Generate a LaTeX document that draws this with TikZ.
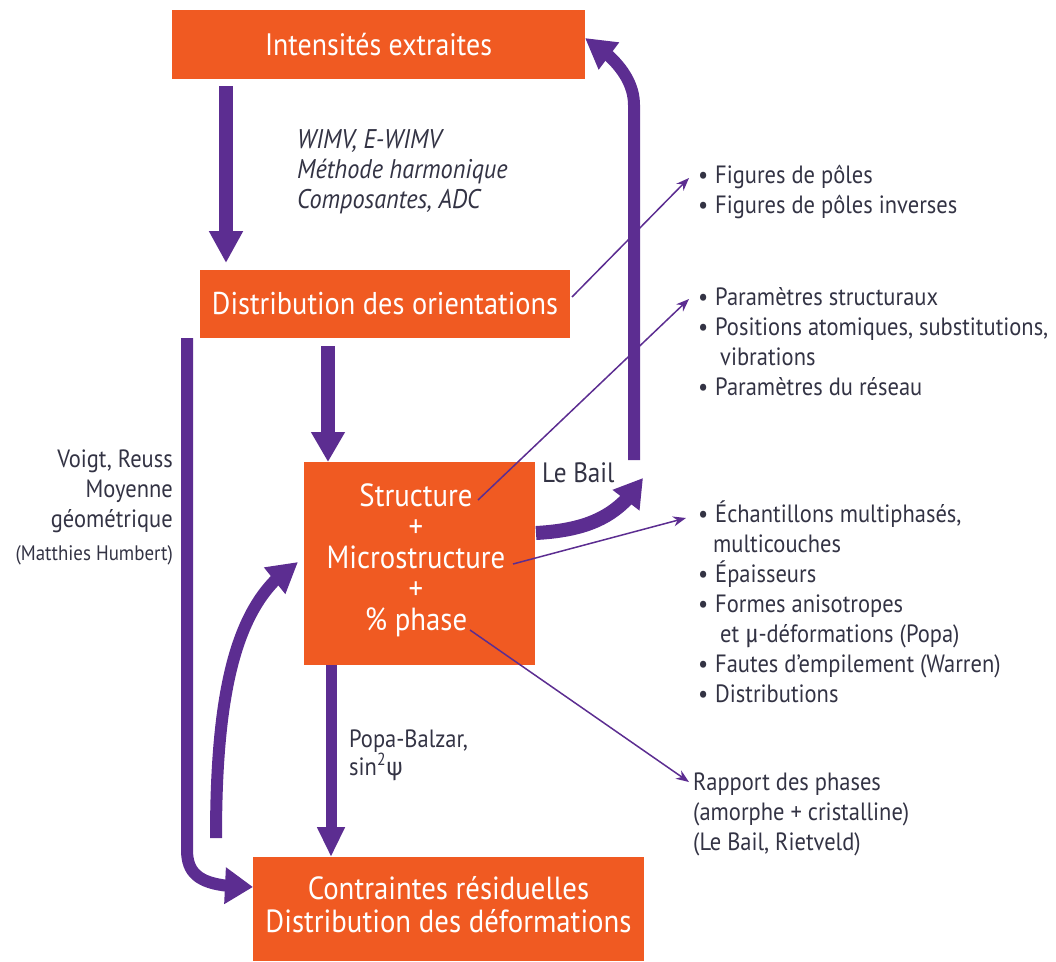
\documentclass[tikz,border=0pt]{standalone}
\usepackage{fontspec}
\setmainfont{PT Sans}[FakeStretch=0.9]
\newfontfamily\grk{Fira Sans}[FakeStretch=0.9]
\usetikzlibrary{arrows.meta,bending}
\definecolor{orng}{HTML}{F05A22}
\definecolor{purp}{HTML}{5C2D91}
\definecolor{txt}{HTML}{333344}
\tikzset{
  box/.style={fill=orng, draw=none, text=white, inner sep=0pt, align=center},
  lbl/.style={text=txt, inner sep=0pt, align=left, font={\fontsize{25}{30}\selectfont}},
  thin/.style={draw=purp, line width=1.5pt, -{Stealth[length=13pt,width=10pt]}},
  fat/.style={draw=purp, line width=#1},
}
\newcommand{\bul}{\makebox[17pt][l]{\textbullet}}
\begin{document}
\begin{tikzpicture}[x=1pt,y=-1pt]
\useasboundingbox (0,0) rectangle (1056,961);
% boxes
\node[box,font={\fontsize{31}{31}\selectfont},minimum width=413pt,minimum height=69pt] (int) at (378.5,44.5) {Intensités extraites};
\node[box,font={\fontsize{31.5}{31}\selectfont},minimum width=370pt,minimum height=68pt] (dist) at (385,304) {Distribution des orientations};
\node[box,minimum width=231pt,minimum height=203pt] (struct) at (419.5,563.5) {};
\node[box,font={\fontsize{32}{31}\selectfont}] (structtxt) at (416,560) {Structure\\+\\Microstructure\\+\\\% phase};
\node[box,minimum width=391pt,minimum height=104pt] (contr) at (448.5,909) {};
\node[box,font={\fontsize{32}{33}\selectfont}] (contrtxt) at (448.5,905) {Contraintes résiduelles\\Distribution des déformations};

% labels
\node[lbl,anchor=base west,font={\itshape\fontsize{27}{30}\selectfont}] (wimv) at (297,208) {WIMV, E-WIMV\\Méthode harmonique\\Composantes, ADC};
\node[lbl,anchor=base east,align=right] (voigt) at (173,527) {Voigt, Reuss\\Moyenne\\géométrique};
\node[lbl,anchor=base east,font={\fontsize{21}{22}\selectfont}] (matt) at (173,560) {(Matthies Humbert)};
\node[lbl,anchor=base west,font={\fontsize{28}{30}\selectfont}] (lebail) at (542,482) {Le Bail};
\node[lbl,anchor=base west,font={\fontsize{25}{28}\selectfont}] (popa) at (349,775) {Popa-Balzar,\\sin\textsuperscript{2}{\grk ψ}};

\node[lbl,anchor=base west] (list1) at (698,213) {\bul Figures de pôles\\\bul Figures de pôles inverses};
\node[lbl,anchor=base west] (list2) at (698,395) {\bul Paramètres structuraux\\\bul Positions atomiques, substitutions,\\\hspace{22pt}vibrations\\\bul Paramètres du réseau};
\node[lbl,anchor=base west] (list3) at (698,702) {\bul Échantillons multiphasés,\\\hspace{15pt}multicouches\\\bul Épaisseurs\\\bul Formes anisotropes\\\hspace{22pt}et {\grk μ}-déformations (Popa)\\\bul Fautes d’empilement (Warren)\\\bul Distributions};
\node[lbl,anchor=base west] (list4) at (693,850) {Rapport des phases\\(amorphe + cristalline)\\(Le Bail, Rietveld)};

% coordinates for arrows
\coordinate (a1s) at (226,86);  \coordinate (a1e) at (226,263);
\coordinate (a2s) at (328,346); \coordinate (a2e) at (328,462);
\coordinate (a3s) at (331,665); \coordinate (a3e) at (331,857);
\coordinate (lfs) at (187,338); \coordinate (lfm) at (187,850); \coordinate (lfe) at (253,887);
\coordinate (ups) at (216,838); \coordinate (upe) at (298,562);
\coordinate (lbs) at (536,533); \coordinate (lbe) at (643,478);
\coordinate (rvs) at (634,460); \coordinate (rvm) at (634,105); \coordinate (rve) at (585,38);

% thick arrows
\draw[fat=14pt,-{Triangle[length=32pt,width=32pt]}] (a1s) -- (a1e);
\draw[fat=14pt,-{Triangle[length=30pt,width=32pt]}] (a2s) -- (a2e);
\draw[fat=11pt,-{Triangle[length=30pt,width=26pt]}] (a3s) -- (a3e);
\draw[fat=12pt,-{Triangle[length=28pt,width=35pt]}] (lfs) -- (lfm) .. controls (187,878) and (205,887) .. (lfe);
\draw[fat=12pt,-{Triangle[length=30pt,width=32pt]}] (ups) .. controls (216,690) and (236,600) .. (upe);
\draw[fat=14pt,-{Triangle[length=28pt,width=32pt]}] (lbs) .. controls (590,530) and (620,515) .. (lbe);
\draw[fat=12pt,-{Triangle[length=30pt,width=32pt]}] (rvs) -- (rvm) .. controls (634,75) and (608,52) .. (rve);

% thin arrows
\coordinate (t1s) at (572,297); \coordinate (t1e) at (689,178);
\coordinate (t2s) at (478,500); \coordinate (t2e) at (689,299);
\coordinate (t3s) at (513,564); \coordinate (t3e) at (686,518);
\coordinate (t4s) at (470,630); \coordinate (t4e) at (689,782);
\draw[thin] (t1s) -- (t1e);
\draw[thin] (t2s) -- (t2e);
\draw[thin] (t3s) -- (t3e);
\draw[thin] (t4s) -- (t4e);
\end{tikzpicture}
\end{document}
